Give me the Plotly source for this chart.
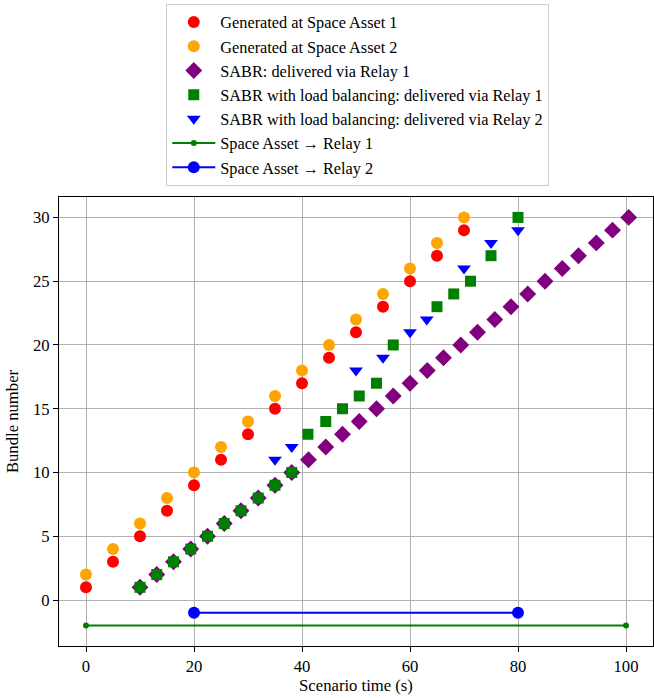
import plotly.graph_objects as go

# Generated bundles
gen_x = [0, 5, 10, 15, 20, 25, 30, 35, 40, 45, 50, 55, 60, 65, 70]
gen1_y = [1, 3, 5, 7, 9, 11, 13, 15, 17, 19, 21, 23, 25, 27, 29]
gen2_y = [2, 4, 6, 8, 10, 12, 14, 16, 18, 20, 22, 24, 26, 28, 30]

# SABR delivered via Relay 1
sabr_x = [10.0, 13.1, 16.2, 19.4, 22.5, 25.6, 28.7, 31.9, 35.0, 38.1,
          41.2, 44.4, 47.5, 50.6, 53.8, 56.9, 60.0, 63.2, 66.2, 69.4,
          72.5, 75.7, 78.7, 81.8, 85.0, 88.2, 91.2, 94.5, 97.5, 100.5]
sabr_y = [1, 2, 3, 4, 5, 6, 7, 8, 9, 10, 11, 12, 13, 14, 15,
          16, 17, 18, 19, 20, 21, 22, 23, 24, 25, 26, 27, 28, 29, 30]

# SABR with load balancing via Relay 1
lb1_x = [10.0, 13.1, 16.2, 19.4, 22.5, 25.6, 28.7, 31.9, 35.0, 38.1,
         41.1, 44.4, 47.5, 50.6, 53.8, 56.9, 65.0, 68.1, 71.2, 75.0, 80.0]
lb1_y = [1, 2, 3, 4, 5, 6, 7, 8, 9, 10,
         13, 14, 15, 16, 17, 20, 23, 24, 25, 27, 30]

# SABR with load balancing via Relay 2
lb2_x = [35.0, 38.1, 50.0, 55.0, 60.0, 63.1, 70.0, 75.0, 80.0]
lb2_y = [11, 12, 18, 19, 21, 22, 26, 28, 29]

# Contact windows
c1_x = [0, 100]
c1_y = [-2, -2]
c2_x = [20, 80]
c2_y = [-1, -1]

FONT = "Liberation Serif, Times New Roman, Times, serif"
FS = 16.67

fig = go.Figure()
fig.add_trace(go.Scatter(x=gen_x, y=gen1_y, mode="markers", name="Generated at Space Asset 1",
                         marker=dict(color="red", size=12, symbol="circle")))
fig.add_trace(go.Scatter(x=gen_x, y=gen2_y, mode="markers", name="Generated at Space Asset 2",
                         marker=dict(color="orange", size=12, symbol="circle")))
fig.add_trace(go.Scatter(x=sabr_x, y=sabr_y, mode="markers", name="SABR: delivered via Relay 1",
                         marker=dict(color="purple", size=13, symbol="diamond")))
fig.add_trace(go.Scatter(x=lb1_x, y=lb1_y, mode="markers",
                         name="SABR with load balancing: delivered via Relay 1",
                         marker=dict(color="green", size=11, symbol="square")))
fig.add_trace(go.Scatter(x=lb2_x, y=lb2_y, mode="markers",
                         name="SABR with load balancing: delivered via Relay 2",
                         marker=dict(color="blue", size=12, symbol="triangle-down")))
fig.add_trace(go.Scatter(x=c1_x, y=c1_y, mode="lines+markers", name="Space Asset → Relay 1",
                         line=dict(color="green", width=2),
                         marker=dict(color="green", size=6)))
fig.add_trace(go.Scatter(x=c2_x, y=c2_y, mode="lines+markers", name="Space Asset → Relay 2",
                         line=dict(color="blue", width=2),
                         marker=dict(color="blue", size=12)))

axis_common = dict(
    showline=True, linecolor="black", linewidth=1, mirror=True,
    ticks="outside", ticklen=5, tickcolor="black", tickwidth=1,
    showgrid=True, gridcolor="#b0b0b0", gridwidth=1, zeroline=False,
    tickfont=dict(family=FONT, size=FS, color="black"),
)

fig.update_layout(
    width=654, height=698,
    margin=dict(l=59, r=1, t=197, b=52, autoexpand=False),
    paper_bgcolor="white", plot_bgcolor="white",
    font=dict(family=FONT, size=FS, color="black"),
    xaxis=dict(range=[-5, 105], tickvals=[0, 20, 40, 60, 80, 100],
               title=dict(text="Scenario time (s)", font=dict(family=FONT, size=FS), standoff=4),
               automargin=False, **axis_common),
    yaxis=dict(range=[-3.6, 31.6], tickvals=[0, 5, 10, 15, 20, 25, 30],
               title=dict(text="Bundle number", font=dict(family=FONT, size=FS), standoff=10),
               automargin=False, **axis_common),
    legend=dict(x=0.503, xanchor="center", y=1.4298, yanchor="top",
                bgcolor="white", bordercolor="#cccccc", borderwidth=1,
                font=dict(family=FONT, size=16.3, color="black"),
                itemwidth=43, traceorder="normal"),
    showlegend=True,
)

fig.write_html("out.html", config={"displayModeBar": False},
               post_script="document.body.style.margin='0';")
